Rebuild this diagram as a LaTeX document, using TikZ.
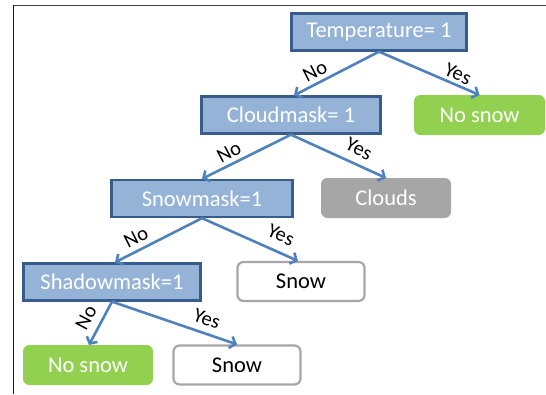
\documentclass[tikz,border=0pt]{standalone}
\usepackage{fontspec}
\setmainfont{Carlito}
\usetikzlibrary{arrows.meta}
\definecolor{decfill}{HTML}{95B3D7}
\definecolor{decdraw}{HTML}{385D8A}
\definecolor{arrowblue}{HTML}{4F81BD}
\definecolor{leafgreen}{HTML}{92D050}
\definecolor{leafgray}{HTML}{A6A6A6}
\tikzset{
  decision/.style={draw=decdraw, fill=decfill, line width=2.3pt, text=white,
    font=\fontsize{22.5}{25}\selectfont, inner sep=0pt, minimum height=37pt},
  leafbase/.style={rounded corners=6pt, inner sep=0pt, minimum width=129pt,
    minimum height=39pt, font=\fontsize{22.5}{25}\selectfont},
  greenleaf/.style={leafbase, fill=leafgreen, draw=leafgreen, line width=1pt, text=white},
  grayleaf/.style={leafbase, fill=leafgray, draw=leafgray, line width=1pt, text=white},
  whiteleaf/.style={leafbase, fill=white, draw=leafgray, line width=2.2pt, text=black},
  branch/.style={draw=arrowblue, line width=2.6pt,
    -{Straight Barb[length=5pt,width=12pt]}},
  lbl/.style={font=\fontsize{20.5}{23}\selectfont, text=black, inner sep=0pt},
  frameline/.style={line width=1.8pt}
}
\begin{document}
\begin{tikzpicture}[x=1pt,y=-1pt]
\useasboundingbox (0,0) rectangle (546,394);
\draw[frameline, draw=black!75] (13,5.5) -- (546,5.5);
\draw[frameline, draw=black!90] (13.5,5) -- (13.5,394);

\node[decision, minimum width=175pt] (temp) at (379,32) {Temperature= 1};
\node[decision, minimum width=179pt] (cloud) at (291,115) {Cloudmask= 1};
\node[greenleaf, minimum width=130pt] (nosnow1) at (479.5,115) {No snow};
\node[decision, minimum width=181pt] (snowm) at (202,198.5) {Snowmask=1};
\node[grayleaf] (clouds) at (386,198) {Clouds};
\node[decision, minimum width=177pt] (shadow) at (112,282) {Shadowmask=1};
\node[whiteleaf, minimum width=127pt] (snow1) at (301,281.5) {Snow};
\node[greenleaf] (nosnow2) at (88,365) {No snow};
\node[whiteleaf, minimum width=127pt] (snow2) at (237,365) {Snow};

\draw[branch] (temp.south) -- ([xshift=3pt]cloud.north);
\draw[branch] (temp.south) -- (nosnow1.north);
\draw[branch] (cloud.south) -- (snowm.north);
\draw[branch] (cloud.south) -- (clouds.north);
\draw[branch] (snowm.south) -- ([xshift=3pt]shadow.north);
\draw[branch] (snowm.south) -- ([xshift=-3pt]snow1.north);
\draw[branch] (shadow.south) -- ([xshift=1pt]nosnow2.north);
\draw[branch] (shadow.south) -- (snow2.north);

\node[lbl, rotate=27] (l1) at (315,71) {No};
\node[lbl, rotate=-24] (l2) at (458,74) {Yes};
\node[lbl, rotate=28] (l3) at (229,152) {No};
\node[lbl, rotate=-26] (l4) at (359,149) {Yes};
\node[lbl, rotate=27] (l5) at (136,237) {No};
\node[lbl, rotate=-24] (l6) at (281,235) {Yes};
\node[lbl, rotate=62] (l7) at (86,318) {No};
\node[lbl, rotate=-20] (l8) at (207,319) {Yes};
\end{tikzpicture}
\end{document}
